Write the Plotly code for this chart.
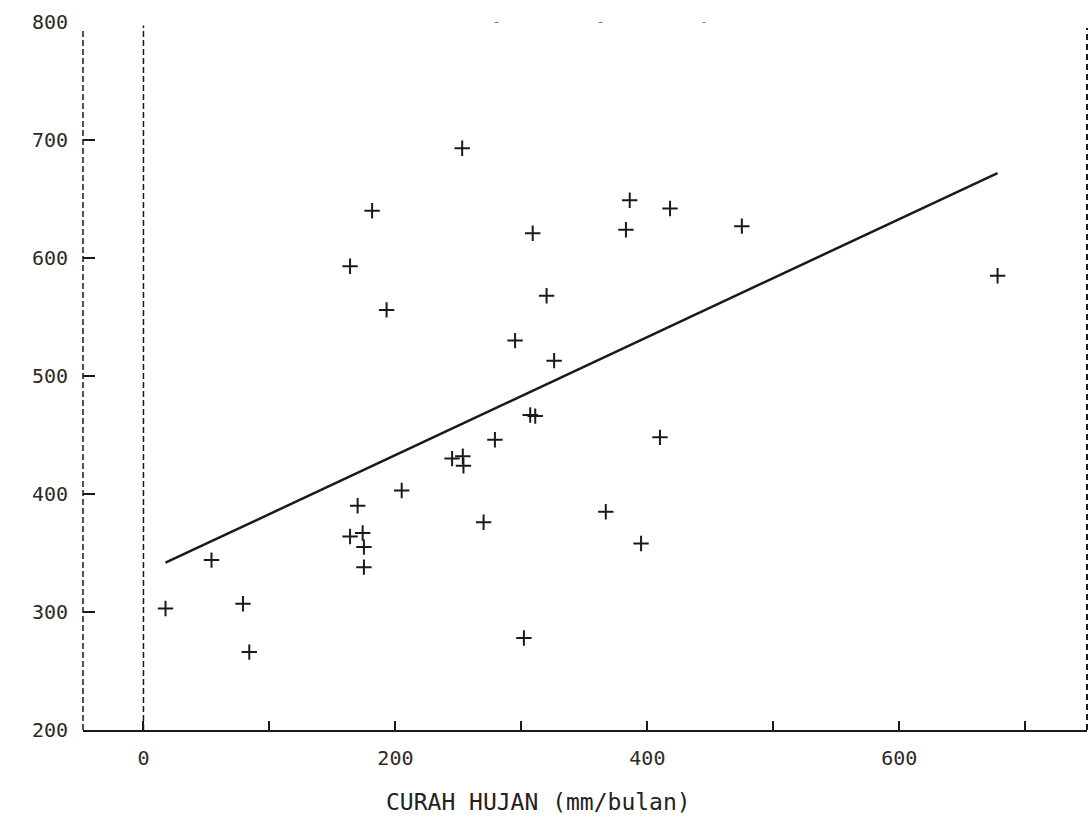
import plotly.graph_objects as go

# Monthly rainfall (mm/bulan) and the paired response values
curah_hujan = [17.5, 54, 79, 84, 164, 170, 174, 175, 175, 164, 181.5, 193, 205,
               245, 253.5, 254, 253, 270, 279, 295, 302, 307, 311, 309, 320, 326,
               367, 383, 386, 395, 410, 418, 475, 678]
hasil = [303, 344, 307, 266, 364, 390, 367, 355, 338, 593, 640, 556, 403,
         430, 432, 424, 693, 376, 446, 530, 278, 467, 466, 621, 568, 513,
         385, 624, 649, 358, 448, 642, 627, 585]

# Fitted regression line: hasil = intercept + slope * curah_hujan
fit_intercept = 333.0
fit_slope = 0.5

x_tick_vals = [0, 100, 200, 300, 400, 500, 600, 700]
x_tick_text = ["0", "", "200", "", "400", "", "600", ""]
y_tick_vals = [200, 300, 400, 500, 600, 700, 800]
y_tick_text = ["200", "300", "400", "500", "600", "700", "800"]

x_range = [-48, 749]
y_range = [200, 800]

ink = "#1a1a1a"
label_font = dict(family="DejaVu Sans Mono", size=20, color="#2a2a2a")

fig = go.Figure()

# regression line spanning the observed rainfall range
x_lo, x_hi = min(curah_hujan), max(curah_hujan)
fig.add_trace(go.Scatter(
    x=[x_lo, x_hi],
    y=[fit_intercept + fit_slope * x_lo, fit_intercept + fit_slope * x_hi],
    mode="lines",
    line=dict(color=ink, width=2.5),
    hoverinfo="skip",
))

# observations drawn as plus signs
fig.add_trace(go.Scatter(
    x=curah_hujan, y=hasil,
    mode="markers",
    marker=dict(symbol="cross-thin", size=11, line=dict(width=2, color=ink)),
))

# frame pieces: dashed left axis, dashed zero line, dashed right border, sparse top
fig.add_shape(type="line", xref="paper", yref="y", x0=0, x1=0, y0=200, y1=793,
              line=dict(color=ink, width=1.5, dash="6px,3px"))
fig.add_shape(type="line", xref="x", yref="y", x0=0, x1=0, y0=200, y1=797,
              line=dict(color=ink, width=1.5, dash="6px,3px"))
fig.add_shape(type="line", xref="paper", yref="y", x0=1, x1=1, y0=200, y1=795,
              line=dict(color=ink, width=2, dash="6px,4px"))
fig.add_shape(type="line", xref="paper", yref="y", x0=0.41, x1=0.62, y0=800, y1=800,
              line=dict(color="#444", width=1.5, dash="4px,100px"))

fig.add_annotation(
    text="CURAH HUJAN (mm/bulan)",
    xref="paper", yref="paper", x=0.454, y=-0.1017,
    xanchor="center", yanchor="middle", showarrow=False,
    font=dict(family="DejaVu Sans Mono", size=23, color="#222"),
)

fig.update_layout(
    width=1088, height=821,
    margin=dict(l=83, r=1, t=22, b=91),
    plot_bgcolor="white", paper_bgcolor="white",
    showlegend=False,
)
fig.update_xaxes(
    range=x_range, showgrid=False, zeroline=False,
    showline=True, linecolor=ink, linewidth=2,
    ticks="inside", ticklen=9, tickwidth=1.5, tickcolor=ink,
    tickvals=x_tick_vals, ticktext=x_tick_text,
    tickfont=label_font, ticklabelstandoff=9,
)
fig.update_yaxes(
    range=y_range, showgrid=False, zeroline=False, showline=False,
    ticks="inside", ticklen=12, tickwidth=1.5, tickcolor=ink,
    tickvals=y_tick_vals, ticktext=y_tick_text,
    tickfont=label_font, ticklabelstandoff=14,
)

fig.write_html("out.html")
